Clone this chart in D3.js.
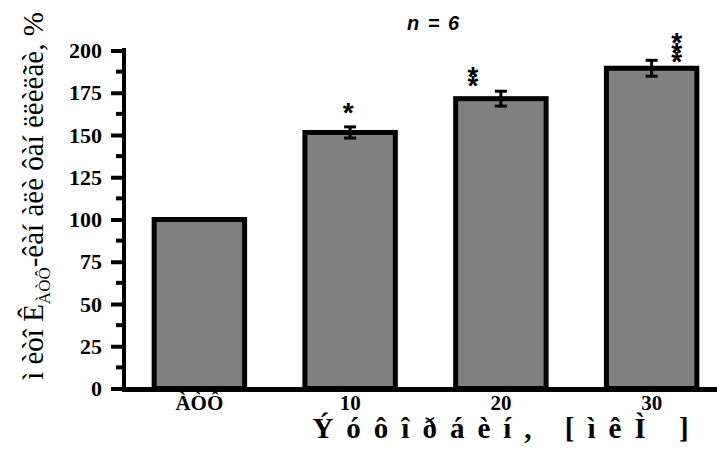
<!DOCTYPE html>
<html>
<head>
<meta charset="utf-8">
<script src="https://cdn.jsdelivr.net/npm/d3@7"></script>
<style>
  body { margin: 0; background: #fff; }
  svg { display: block; }
</style>
</head>
<body>
<svg id="canvas" width="717" height="452"></svg>
<script>
var categories = ['ÀÒÔ', '10', '20', '30'];
var values = [100, 151.5, 171.5, 189.5];
var errors = [0, 3.3, 4.4, 4.7];
var stars = ['', '*', '**', '***'];
var yTicks = [0, 25, 50, 75, 100, 125, 150, 175, 200];

var svg = d3.select('#canvas');
var serif = '"Liberation Serif", "Times New Roman", serif';

var y = d3.scaleLinear().domain([0, 200]).range([388.5, 50.5]);
var x = d3
  .scaleBand()
  .domain(categories)
  .range([124, 727])
  .paddingInner(0.4)
  .paddingOuter(0.2);

// bars
svg
  .selectAll('.bar')
  .data(values)
  .enter()
  .append('rect')
  .attr('class', 'bar')
  .attr('x', (d, i) => x(categories[i]))
  .attr('y', d => y(d))
  .attr('width', x.bandwidth())
  .attr('height', d => y(0) - y(d))
  .style('fill', '#808080')
  .style('stroke', '#000')
  .style('stroke-width', 5);

// error bars
var err = svg
  .selectAll('.err')
  .data(values)
  .enter()
  .append('g')
  .attr('class', 'err')
  .attr('transform', (d, i) => 'translate(' + (x(categories[i]) + x.bandwidth() / 2) + ',0)')
  .style('stroke', '#000')
  .style('stroke-width', 3);
err
  .append('line')
  .attr('y1', (d, i) => y(d - errors[i]))
  .attr('y2', (d, i) => y(d + errors[i]));
err
  .append('line')
  .attr('x1', -6)
  .attr('x2', 6)
  .attr('y1', (d, i) => y(d + errors[i]))
  .attr('y2', (d, i) => y(d + errors[i]));
err
  .append('line')
  .attr('x1', -6)
  .attr('x2', 6)
  .attr('y1', (d, i) => y(d - errors[i]))
  .attr('y2', (d, i) => y(d - errors[i]));

// significance marks, stacked vertically
var starDx = [0, -2, -28, 25];
var starGap = [0, 19, 10, 3];
stars.forEach(function(s, i) {
  var cx = x(categories[i]) + x.bandwidth() / 2 + starDx[i];
  var base = y(values[i] + errors[i]) - starGap[i];
  for (var k = 0; k < s.length; k++) {
    svg
      .append('text')
      .attr('x', cx)
      .attr('y', base - k * 9.5 + 14)
      .attr('text-anchor', 'middle')
      .style('font-family', '"Liberation Sans", Arial, sans-serif')
      .style('font-weight', 'bold')
      .style('font-size', '28px')
      .text('*');
  }
});

// y axis
var yAxis = svg
  .append('g')
  .attr('transform', 'translate(124,0)')
  .call(d3.axisLeft(y).tickValues(yTicks).tickSize(13).tickPadding(9));
yAxis.select('.domain').remove();
yAxis.selectAll('line').style('stroke-width', 4);
yAxis
  .selectAll('text')
  .style('font-family', serif)
  .style('font-weight', 'bold')
  .style('font-size', '22px');
yAxis
  .selectAll('.minor')
  .data(yTicks.slice(1))
  .enter()
  .append('line')
  .attr('class', 'minor')
  .attr('x1', -8)
  .attr('x2', 0)
  .attr('y1', d => y(d - 12.5))
  .attr('y2', d => y(d - 12.5))
  .style('stroke', '#000')
  .style('stroke-width', 4);
svg
  .append('line')
  .attr('x1', 124)
  .attr('x2', 124)
  .attr('y1', 48)
  .attr('y2', 391)
  .style('stroke', '#000')
  .style('stroke-width', 4);

// x axis
var xAxis = svg
  .append('g')
  .attr('transform', 'translate(0,' + y(0) + ')')
  .call(d3.axisBottom(x).tickSize(0).tickPadding(7));
xAxis.select('.domain').remove();
xAxis
  .selectAll('text')
  .style('font-family', serif)
  .style('font-weight', 'bold')
  .style('font-size', '21px');
svg
  .append('line')
  .attr('x1', 122)
  .attr('x2', 717)
  .attr('y1', y(0) + 1)
  .attr('y2', y(0) + 1)
  .style('stroke', '#000')
  .style('stroke-width', 5);

// title
svg
  .append('text')
  .attr('x', 433)
  .attr('y', 30)
  .attr('text-anchor', 'middle')
  .style('font-family', '"Liberation Sans", Arial, sans-serif')
  .style('font-weight', 'bold')
  .style('font-style', 'italic')
  .style('font-size', '20px')
  .style('word-spacing', '3px')
  .text('n = 6');

// axis titles
var yTitle = svg
  .append('text')
  .attr('transform', 'translate(43,196) rotate(-90)')
  .attr('text-anchor', 'middle')
  .style('font-family', serif)
  .style('font-size', '29px');
yTitle.append('tspan').text('ì èòî Ê');
yTitle
  .append('tspan')
  .attr('dy', 7)
  .style('font-size', '17px')
  .text('ÀÒÔ');
yTitle
  .append('tspan')
  .attr('dy', -7)
  .text('-êàí àëè ôàí ëëèëãè, %');

svg
  .append('text')
  .attr('x', 507)
  .attr('y', 438)
  .attr('text-anchor', 'middle')
  .style('font-family', serif)
  .style('font-weight', 'bold')
  .style('font-size', '29px')
  .style('letter-spacing', '13px')
  .text('Ýóôîðáèí, [ìêÌ ]');
</script>
</body>
</html>
